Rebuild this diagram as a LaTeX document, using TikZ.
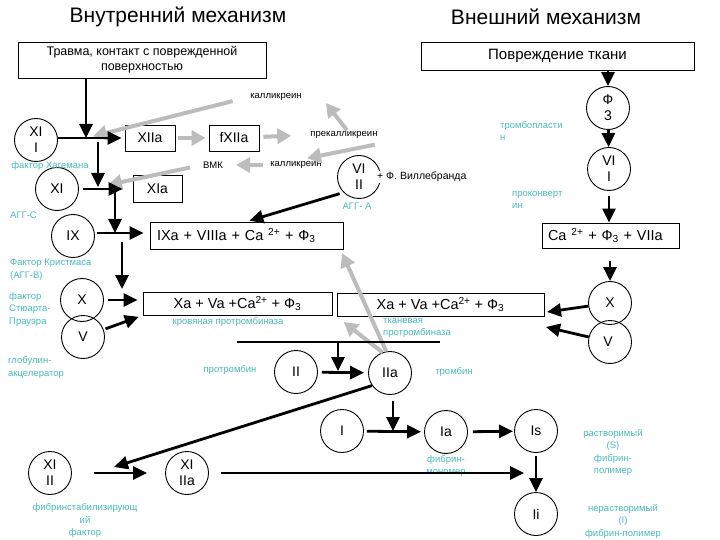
\documentclass[tikz,border=0pt]{standalone}
\usepackage{fontspec}
\setmainfont{Liberation Sans}
\usetikzlibrary{arrows.meta}

\definecolor{notecolor}{RGB}{72,186,186}
\definecolor{loopgray}{RGB}{188,188,188}

\begin{document}
\begin{tikzpicture}[x=1pt, y=-1pt,
    title/.style={font=\fontsize{21}{24}\selectfont},
    stage/.style={draw, line width=0.9pt, minimum height=26pt, inner sep=2pt, font=\fontsize{14}{16}\selectfont},
    factor/.style={circle, draw, line width=0.9pt, minimum size=43pt, inner sep=0pt, align=center, font=\fontsize{14}{16}\selectfont},
    note/.style={text=notecolor, inner sep=0pt, font=\fontsize{9.5}{12.5}\selectfont},
    enzyme/.style={inner sep=1pt, font=\fontsize{9.5}{11}\selectfont},
    act/.style={line width=2.8pt, -{Triangle[length=14pt, width=13pt]}},
    loopback/.style={loopgray, line width=4pt, -{Triangle[length=14pt, width=15pt]}},
  ]
  \useasboundingbox (0,0) rectangle (720,540);

  \node[title] (inner) at (178,17) {Внутренний механизм};
  \node[title] (outer) at (546,17) {Внешний механизм};

  % boxes
  \node[stage, minimum width=248pt, minimum height=36pt, align=center, font=\fontsize{12.5}{15}\selectfont] (trauma) at (142,60) {Травма, контакт с поврежденной\\поверхностью};
  \node[stage, minimum width=273pt, minimum height=28pt, font=\fontsize{15}{17}\selectfont] (tissue) at (557.5,56) {Повреждение ткани};
  \node[stage, minimum width=50pt] (xiia) at (150,138) {XIIa};
  \node[stage, minimum width=50pt] (fxiia) at (234,138) {fXIIa};
  \node[stage, minimum width=49pt, minimum height=27pt] (xia) at (157.5,189) {XIa};
  \node[stage, minimum height=27pt, inner xsep=7pt, text width=179pt, align=left, font=\fontsize{14.5}{16}\selectfont] (tenase) at (246.5,235.5) {IXa + VIIIa + Ca \textsuperscript{2+} + Ф\textsubscript{3}};
  \node[stage, minimum width=189pt, minimum height=23pt, font=\fontsize{14.5}{16}\selectfont] (blood) at (237.5,303.5) {Xa + Va +Ca\textsuperscript{2+} + Ф\textsubscript{3}};
  \node[stage, minimum width=207pt, minimum height=23pt, font=\fontsize{14.5}{16}\selectfont] (tissuepro) at (440.5,304.5) {Xa + Va +Ca\textsuperscript{2+} + Ф\textsubscript{3}};
  \node[stage, minimum height=25pt, inner xsep=6pt, text width=125pt, align=left, font=\fontsize{14.5}{16}\selectfont] (extcplx) at (610.5,235.5) {Ca \textsuperscript{2+} + Ф\textsubscript{3} + VIIa};

  % factors
  \foreach \name/\x/\y/\txt in {
      f12/36/140/{XI\\I}, f11/57/189/{XI}, f9/73/236/{IX}, f10/82/300/{X}, f5/83/337/{V},
      f8/359/177/{VI\\II}, f2/296/372/{II}, f2a/390/373/{IIa}, f1/342/431/{I},
      f1a/446/432/{Ia}, f1s/536/431/{Is}, f1i/536/514/{Ii}, f13/50/473/{XI\\II},
      f13a/187/473/{XI\\IIa}, f3/608/108/{Ф\\3}, f7/609/169/{VI\\I}, f10e/610/303/{X}, f5e/610/342/{V}
    } {
      \node[factor] (\name) at (\x,\y) {\txt};
    }

  \node[enzyme] (kal1) at (276,97) {калликреин};
  \node[enzyme] (prekal) at (344,135) {прекалликреин};
  \node[enzyme] (kal2) at (296,165) {калликреин};
  \node[enzyme] (vmk) at (213,165) {ВМК};
  \node[anchor=west, fill=white, inner sep=1pt, font=\fontsize{10.5}{12}\selectfont] (willebrand) at (376,177) {+ Ф. Виллебранда};

  % notes
  \node[note] (hageman) at (50,166) {фактор Хагемана};
  \node[note, anchor=west] (aggc) at (10,215) {АГГ-С};
  \node[note, anchor=west, align=left] (christmas) at (10,269.5) {Фактор Кристмаса\\(АГГ-В)};
  \node[note, anchor=west, align=left] (stuart) at (9,309.5) {фактор\\Стюарта-\\Прауэра};
  \node[note, anchor=west, align=left] (accel) at (8,367.5) {глобулин-\\акцелератор};
  \node[note] (bloodname) at (228,322) {кровяная протромбиназа};
  \node[note, anchor=west, align=left] (tissuename) at (383,328) {тканевая\\протромбиназа};
  \node[note] (prothrombin) at (230,370) {протромбин};
  \node[note] (thrombin) at (454,372) {тромбин};
  \node[note] (agga) at (357,206) {АГГ- А};
  \node[note, anchor=west, align=left] (tpl) at (500,131) {тромбопласти\\н};
  \node[note, anchor=west, align=left] (proconv) at (512,200) {проконверт\\ин};
  \node[note, align=center] (monomer) at (446,466) {фибрин-\\мономер};
  \node[note, align=center] (soluble) at (613,452.5) {растворимый\\(S)\\фибрин-\\полимер};
  \node[note, align=center] (insoluble) at (623,521) {нерастворимый\\(I)\\фибрин-полимер};
  \node[note, align=center] (stab) at (85,520.5) {фибринстабилизирующ\\ий\\фактор};

  \coordinate (j12) at (86,138);
  \coordinate (j11) at (98,187);
  \coordinate (j9) at (115,233);
  \coordinate (j10) at (122,289);
  \coordinate (barL) at (237,342);
  \coordinate (barR) at (440,342);
  \coordinate (j2) at (338,371);
  \coordinate (j1) at (393,431);
  \coordinate (j13) at (114,467);
  \coordinate (jfib) at (524,473);
  \coordinate (tipX) at (547,312);
  \coordinate (tipV) at (546,327);

  % feedback loops
  \draw[loopback, shorten <=3pt, shorten >=3pt] (xiia) -- (fxiia);
  \draw[loopback, shorten <=4pt, shorten >=18pt] (fxiia) -- (prekal.west);
  \draw[loopback] ([xshift=3pt]prekal.north) -- ([xshift=23pt, yshift=-6pt]kal1.east);
  \draw[loopback, shorten <=17pt, shorten >=7pt] (kal1.west) -- (j12);
  \draw[loopback] ([xshift=-4pt, yshift=-5pt]prekal.south east) -- ([xshift=11pt, yshift=2pt]kal2.north);
  \draw[loopback, shorten <=6pt, shorten >=12pt] (kal2.west) -- (vmk.east);
  \draw[loopback, shorten <=12pt, shorten >=10pt] (vmk.west) -- (j11);
  \draw[loopback, shorten >=4pt] (f2a.100) -- ([xshift=-3pt]tenase.south east);
  \draw[loopback, shorten >=9pt] (f2a.110) -- (tissuepro.south west);

  % intrinsic
  \draw[act] (j12 |- trauma.south) -- (j12);
  \draw[act, shorten >=3pt] (f12.east |- xiia.west) -- (xiia.west);
  \draw[act, shorten <=4pt] (j11 |- xiia.west) -- (j11);
  \draw[act, shorten <=4pt, shorten >=10pt] (f11) -- (xia);
  \draw[act] (j9 |- f11) -- (j9);
  \draw[act, shorten <=2pt, shorten >=6pt] (f9.east |- j9) -- (tenase.west |- j9);
  \draw[act, shorten <=6pt] (j10 |- f9) -- (j10);
  \draw[act, shorten <=4pt, shorten >=5pt] (f10) -- (f10 -| blood.west);
  \draw[act, shorten <=2pt, shorten >=4pt] (f5) -- (blood.south west);
  \draw[act, shorten <=4pt, shorten >=3pt] (f8.225) -- (tenase.north);

  % common pathway
  \draw[line width=2.8pt] (barL) -- (barR);
  \draw[act] (j2 |- barL) -- (j2);
  \draw[act, shorten <=4pt, shorten >=4pt] (f2) -- (f2a);
  \draw[act] (f2a.215) -- (j13);
  \draw[act, shorten <=6pt] (j1 |- f2a.south) -- (j1);
  \draw[act, shorten <=3pt, shorten >=3pt] (f1) -- (f1a);
  \draw[act, shorten <=5pt, shorten >=1pt] (f1a) -- (f1s);
  \draw[act, shorten <=3pt] (f1s) -- (f1i);
  \draw[act, shorten <=22pt, shorten >=18pt] (f13) -- (f13a);
  \draw[act, shorten <=12pt] (f13a) -- (jfib);

  % extrinsic
  \draw[act] (f3 |- tissue.south) -- (f3.north);
  \draw[act] (f3) -- (f7);
  \draw[act, shorten <=5pt] (f7) -- (f7 |- extcplx.north);
  \draw[act, shorten <=13pt] (f10e |- extcplx.south) -- (f10e);
  \draw[act] (f10e) -- (tipX);
  \draw[act] (f5e) -- (tipV);
\end{tikzpicture}
\end{document}
